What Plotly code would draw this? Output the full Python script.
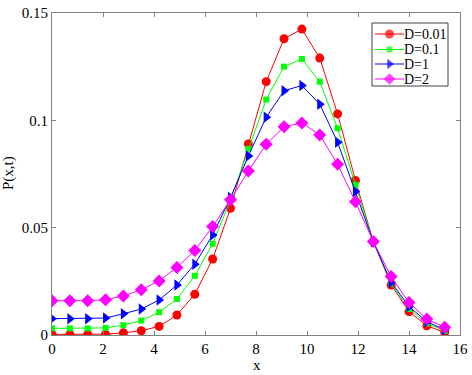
import plotly.graph_objects as go

x_vals = [0, 0.7, 1.4, 2.1, 2.8, 3.5, 4.2, 4.9, 5.6, 6.3, 7.0, 7.7, 8.4, 9.1, 9.8, 10.5, 11.2, 11.9, 12.6, 13.3, 14.0, 14.7, 15.4]

p_d001 = [0.0003, 0.0003, 0.0003, 0.0004, 0.001, 0.002, 0.004, 0.0093, 0.019, 0.0354, 0.059,
          0.089, 0.118, 0.138, 0.1425, 0.129, 0.103, 0.072, 0.0435, 0.0233, 0.0109, 0.0043, 0.0012]
p_d01 = [0.0031, 0.0031, 0.0031, 0.0033, 0.0046, 0.0067, 0.0106, 0.0168, 0.0276, 0.0425, 0.0629,
         0.0867, 0.1097, 0.125, 0.1286, 0.118, 0.0963, 0.07, 0.0435, 0.024, 0.0121, 0.0054, 0.0019]
p_d1 = [0.0076, 0.0076, 0.0076, 0.0079, 0.0099, 0.0121, 0.0163, 0.0233, 0.033, 0.0466, 0.064,
        0.0834, 0.1014, 0.1138, 0.1162, 0.1075, 0.0898, 0.0668, 0.0435, 0.0246, 0.0133, 0.0062, 0.0024]
p_d2 = [0.016, 0.016, 0.016, 0.0164, 0.0182, 0.0211, 0.0252, 0.0315, 0.0394, 0.0505, 0.063,
        0.0764, 0.0889, 0.097, 0.0988, 0.0932, 0.0795, 0.0621, 0.0435, 0.0272, 0.0151, 0.0074, 0.0036]

series_names = ["D=0.01", "D=0.1", "D=1", "D=2"]
series_values = [p_d001, p_d01, p_d1, p_d2]
series_colors = ["#ff0000", "#00ff00", "#0000ff", "#ff00ff"]
series_symbols = ["circle", "square", "triangle-right", "diamond"]
series_sizes = [9, 6, 10, 10]
legend_sizes = [9, 6, 9, 9]

font_family = "Liberation Serif, Times New Roman, serif"
W, H = 472, 375
ML, MR, MT, MB = 52, 12, 13, 40


def px_to_paper_x(px):
    return (px - ML) / (W - ML - MR)


def px_to_paper_y(py):
    return (H - MB - py) / (H - MT - MB)


fig = go.Figure()
for name, ys, color, sym, size in zip(series_names, series_values, series_colors, series_symbols, series_sizes):
    fig.add_trace(go.Scatter(
        x=x_vals, y=ys, name=name, mode="lines+markers", showlegend=False,
        line=dict(color=color, width=1),
        marker=dict(symbol=sym, size=size, color=color, line=dict(width=0)),
    ))

# Legend box drawn in pixel space (overlay axes x2/y2 map pixel coordinates of the page)
leg_left, leg_right, leg_top, leg_bottom = 372, 448, 23, 86
leg_rows = [34, 49.5, 64, 79]
line_x0, line_x1, text_x = 375, 404, 403
fig.add_shape(type="rect", xref="x2", yref="y2", x0=leg_left, x1=leg_right, y0=leg_top, y1=leg_bottom,
              line=dict(color="#404040", width=1), fillcolor="white", layer="below")
for name, color, sym, lsz, ry in zip(series_names, series_colors, series_symbols, legend_sizes, leg_rows):
    fig.add_trace(go.Scatter(
        x=[line_x0, (line_x0 + line_x1) / 2, line_x1], y=[ry, ry, ry], xaxis="x2", yaxis="y2",
        mode="lines+markers", showlegend=False, hoverinfo="skip",
        line=dict(color=color, width=1),
        marker=dict(symbol=sym, size=[0, lsz, 0], color=color, line=dict(width=0)),
    ))
    fig.add_annotation(x=text_x, y=ry, xref="x2", yref="y2", text=name, showarrow=False, borderpad=0,
                       xanchor="left", yanchor="middle", font=dict(family=font_family, size=14, color="black"))

axis_common = dict(
    showgrid=False, zeroline=False, showline=True, linecolor="#808080", linewidth=1,
    mirror="ticks", ticks="inside", ticklen=4, tickcolor="#808080", automargin=False,
    tickfont=dict(family=font_family, size=15, color="black"),
)

fig.update_layout(
    width=W, height=H,
    margin=dict(l=ML, r=MR, t=MT, b=MB),
    paper_bgcolor="white", plot_bgcolor="white",
    font=dict(family=font_family, size=15, color="black"),
    xaxis=dict(range=[0, 16], dtick=2, **axis_common),
    yaxis=dict(range=[0, 0.15], tickvals=[0, 0.05, 0.1, 0.15], ticktext=["0", "0.05", "0.1", "0.15"],
               **axis_common),
    xaxis2=dict(overlaying="x", range=[ML, W - MR], visible=False, fixedrange=True),
    yaxis2=dict(overlaying="y", range=[H - MB, MT], visible=False, fixedrange=True),
    showlegend=False,
)
fig.add_annotation(x=px_to_paper_x(257), y=px_to_paper_y(365), xref="paper", yref="paper", text="x",
                   showarrow=False, xanchor="center", yanchor="middle", font=dict(family=font_family, size=15))
fig.add_annotation(x=px_to_paper_x(8), y=px_to_paper_y(173), xref="paper", yref="paper", text="P(x,t)",
                   showarrow=False, textangle=-90, xanchor="center", yanchor="middle",
                   font=dict(family=font_family, size=15))

fig.write_html("out.html", config={"displayModeBar": False},
               post_script="document.body.style.margin='0';document.body.style.padding='0';")
